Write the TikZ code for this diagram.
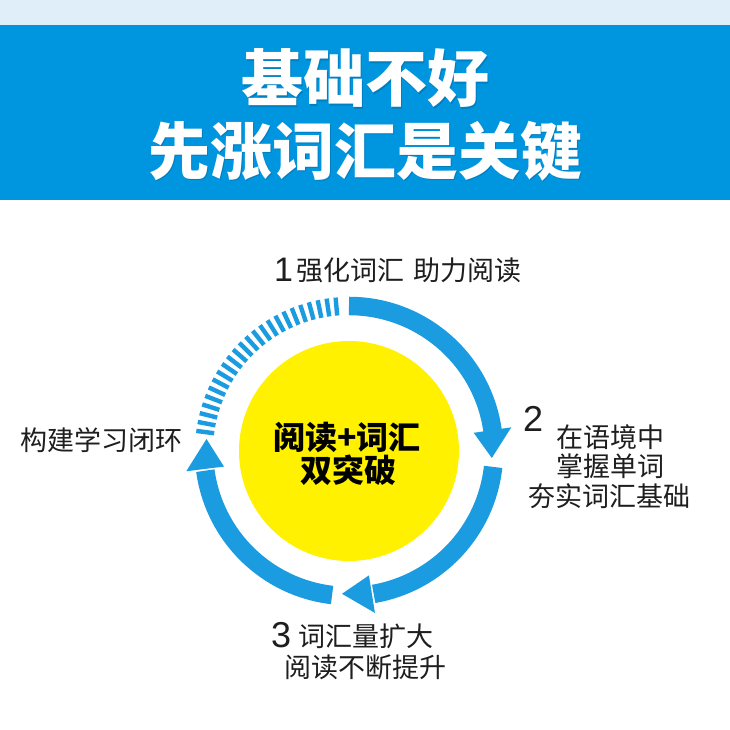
\documentclass[tikz,border=0pt]{standalone}
\usepackage{fontspec}
\newfontfamily\cjk{Noto Sans CJK SC}
\newfontfamily\arialf{Liberation Sans}
\definecolor{banner}{HTML}{0096DF}
\definecolor{topband}{HTML}{DFEEF8}
\definecolor{ringblue}{HTML}{1B9BE0}
\definecolor{sunyellow}{HTML}{FFF100}
\definecolor{labeltext}{HTML}{1E1E1E}
\definecolor{shadowblue}{HTML}{00629A}
\begin{document}
\begin{tikzpicture}[x=1pt,y=1pt,
  titletext/.style={text=white, font=\cjk\bfseries\fontsize{62}{62}\selectfont, inner sep=0},
  titleshadow/.style={text=shadowblue, opacity=0.45, font=\cjk\bfseries\fontsize{62}{62}\selectfont, inner sep=0},
  coretext/.style={text=black, font=\cjk\bfseries\fontsize{32}{32}\selectfont, inner sep=0},
  labeltxt/.style={text=labeltext, font=\cjk\fontsize{27}{27}\selectfont, inner sep=0},
  numtxt/.style={text=labeltext, font=\arialf\fontsize{36}{36}\selectfont, inner sep=0, anchor=base west},
  ringband/.style={draw=ringblue, line width=18.5},
  arrowhd/.style={fill=ringblue},
  stripe/.style={draw=ringblue, line width=4.4},
  corecircle/.style={circle, fill=sunyellow, minimum size=220, inner sep=0}]
\useasboundingbox (0,0) rectangle (730,730);
\fill[white] (0,0) rectangle (730,730);
\fill[topband] (0,705) rectangle (730,730);
\fill[banner] (0,530) rectangle (730,705);
% title
\node[titleshadow] (title1s) at (366.5,650.5) {基础不好};
\node[titleshadow] (title2s) at (366.5,577.5) {先涨词汇是关键};
\node[titletext] (title1) at (365,652) {基础不好};
\node[titletext] (title2) at (365,579) {先涨词汇是关键};
% centre
\coordinate (c) at (349,279);
\node[corecircle] (core) at (c) {};
\node[coretext] (core1) at (347,293) {阅读+词汇};
\node[coretext] (core2) at (348,260) {双突破};
% arrow 1
\draw[ringband] ([shift={(90:145)}]c) arc[start angle=90, end angle=7.6, radius=145];
\fill[arrowhd] ([shift={(8.3:126)}]c) -- ([shift={(8.3:164)}]c) -- ([shift={(-2.8:143)}]c) -- cycle;
% arrow 2
\draw[ringband] ([shift={(-6.3:145)}]c) arc[start angle=-6.3, end angle=-80.2, radius=145];
\fill[arrowhd] ([shift={(-80.9:126)}]c) -- ([shift={(-80.9:164)}]c) -- ([shift={(-92.8:143)}]c) -- cycle;
% arrow 3
\draw[ringband] ([shift={(-96.7:145)}]c) arc[start angle=-96.7, end angle=-172.2, radius=145];
\fill[arrowhd] ([shift={(-172.9:126)}]c) -- ([shift={(-172.9:164)}]c) -- ([shift={(175.2:143)}]c) -- cycle;
% striped arc
\foreach \k in {0,...,23} {
  \pgfmathsetmacro{\ang}{172.5-\k*3.37}
  \draw[stripe] ([shift={(\ang:136)}]c) -- ([shift={(\ang:154)}]c);
}
% labels
\node[numtxt, font=\arialf\fontsize{34}{34}\selectfont] (num1) at (274,448) {1};
\node[labeltxt, anchor=west] (lab1) at (296,460) {强化词汇\hspace{9pt}助力阅读};
\node[numtxt] (num2) at (523,298) {2};
\node[labeltxt] (lab2a) at (610,293) {在语境中};
\node[labeltxt] (lab2b) at (610,264) {掌握单词};
\node[labeltxt] (lab2c) at (609,234) {夯实词汇基础};
\node[numtxt] (num3) at (271,82) {3};
\node[labeltxt, anchor=west] (lab3a) at (298,94) {词汇量扩大};
\node[labeltxt] (lab3b) at (365,63) {阅读不断提升};
\node[labeltxt] (lab4) at (101.5,290) {构建学习闭环};
\end{tikzpicture}
\end{document}
